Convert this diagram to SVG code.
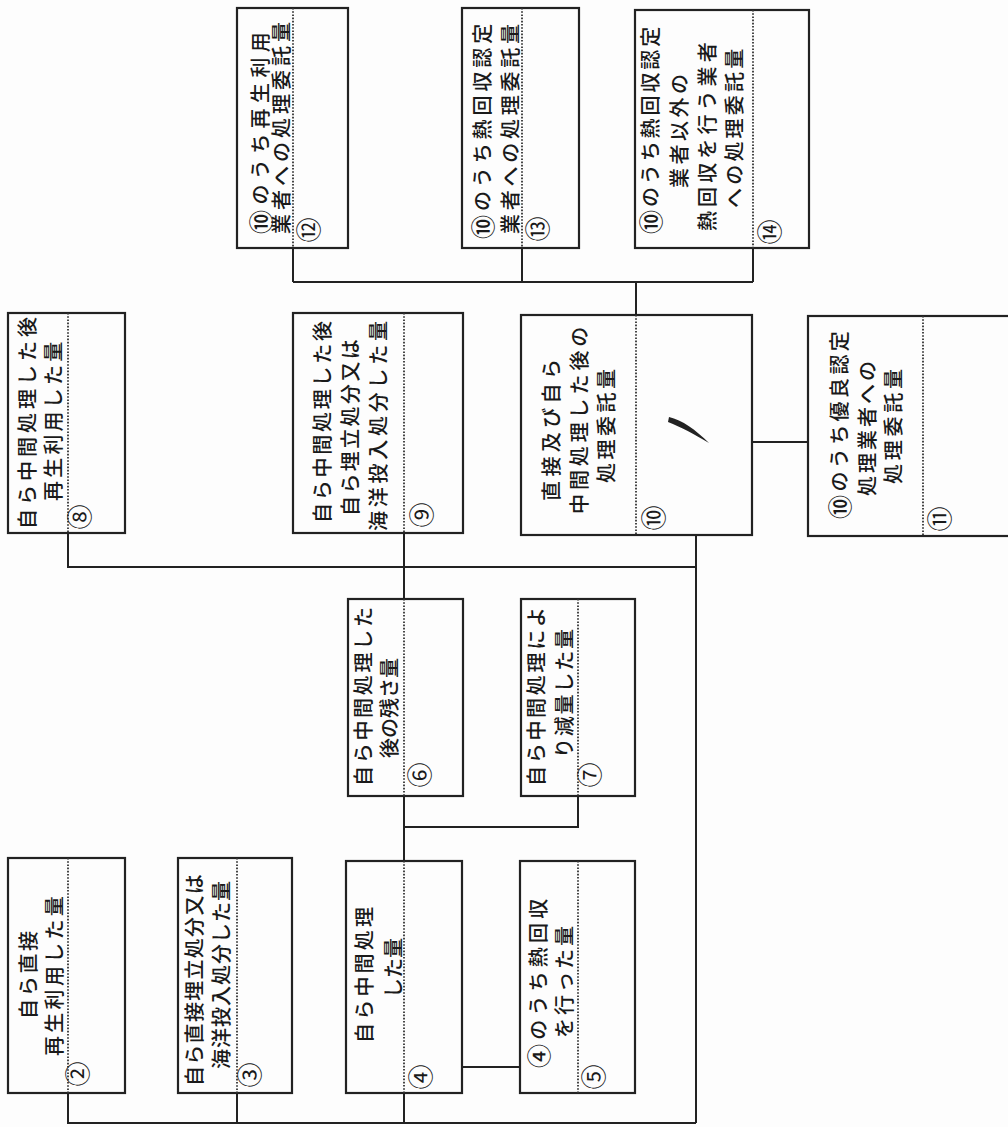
<svg xmlns="http://www.w3.org/2000/svg" width="1008" height="1127" viewBox="0 0 1008 1127">
<style>
.box{fill:none;stroke:#222;stroke-width:2.2}
.div{stroke:#333;stroke-width:1.8;stroke-dasharray:1.6 1.6;fill:none}
.con{fill:none;stroke:#222;stroke-width:2}
.t{font-family:"Noto Sans CJK JP","Noto Sans CJK SC",sans-serif;font-size:20px;font-weight:500;fill:#1a1a1a;dominant-baseline:central}
.c{font-size:24px}
.n{font-family:"Noto Sans CJK JP","Noto Sans CJK SC",sans-serif;font-size:25px;fill:#1a1a1a;dominant-baseline:central;text-anchor:middle}
</style>
<rect x="0" y="0" width="1008" height="1127" fill="#fdfdfd"/>
<g id="connectors">
<path class="con" d="M293,248V282M522,248V282M753,248V282M293,282H753M636,282V315"/>
<path class="con" d="M752,442H808"/>
<path class="con" d="M68,533V567H696M404,533V599M696,535V1123"/>
<path class="con" d="M404,796V861M578,796V827H404"/>
<path class="con" d="M462,1067H520" stroke="#666" stroke-width="1.5"/>
<path class="con" d="M68,1093V1123H696M237,1093V1123M404,1093V1123"/>
</g>
<g id="node2">
<rect class="box" x="8" y="858" width="117" height="235"/>
<line class="div" x1="68" y1="858" x2="68" y2="1093"/>
<text class="t" transform="translate(27,1019) rotate(-90)" letter-spacing="2.7">自ら直接</text>
<text class="t" transform="translate(53,1056) rotate(-90)" letter-spacing="3.3">再生利用した量</text>
<text class="n" transform="translate(76,1074) rotate(-90)">②</text>
</g>
<g id="node3">
<rect class="box" x="178" y="858" width="114" height="235"/>
<line class="div" x1="237" y1="858" x2="237" y2="1093"/>
<text class="t" transform="translate(193,1086) rotate(-90)" letter-spacing="1.3">自ら直接埋立処分又は</text>
<text class="t" transform="translate(220,1069) rotate(-90)" letter-spacing="1">海洋投入処分した量</text>
<text class="n" transform="translate(248,1075) rotate(-90)">③</text>
</g>
<g id="node4">
<rect class="box" x="346" y="861" width="116" height="232"/>
<line class="div" x1="404" y1="861" x2="404" y2="1093"/>
<text class="t" transform="translate(363,1043) rotate(-90)" letter-spacing="3.2">自ら中間処理</text>
<text class="t" transform="translate(392,998) rotate(-90)">した量</text>
<text class="n" transform="translate(419,1077) rotate(-90)">④</text>
</g>
<g id="node5">
<rect class="box" x="520" y="861" width="115" height="232"/>
<line class="div" x1="578" y1="861" x2="578" y2="1093"/>
<text class="t" transform="translate(537,1068) rotate(-90)" letter-spacing="4.2"><tspan class="c">④</tspan>のうち熱回収</text>
<text class="t" transform="translate(563,1038) rotate(-90)" letter-spacing="3">を行った量</text>
<text class="n" transform="translate(592,1077) rotate(-90)">⑤</text>
</g>
<g id="node6">
<rect class="box" x="348" y="599" width="115" height="197"/>
<line class="div" x1="404" y1="599" x2="404" y2="796"/>
<text class="t" transform="translate(362,786) rotate(-90)" letter-spacing="2.7">自ら中間処理した</text>
<text class="t" transform="translate(388,758) rotate(-90)">後の残さ量</text>
<text class="n" transform="translate(418,775) rotate(-90)">⑥</text>
</g>
<g id="node7">
<rect class="box" x="521" y="599" width="114" height="197"/>
<line class="div" x1="578" y1="599" x2="578" y2="796"/>
<text class="t" transform="translate(535,786) rotate(-90)" letter-spacing="2.7">自ら中間処理によ</text>
<text class="t" transform="translate(563,758) rotate(-90)" letter-spacing="1.8">り減量した量</text>
<text class="n" transform="translate(588,775) rotate(-90)">⑦</text>
</g>
<g id="node8">
<rect class="box" x="8" y="313" width="117" height="220"/>
<line class="div" x1="68" y1="313" x2="68" y2="533"/>
<text class="t" transform="translate(26,529) rotate(-90)" letter-spacing="4">自ら中間処理した後</text>
<text class="t" transform="translate(52,501) rotate(-90)" letter-spacing="3.2">再生利用した量</text>
<text class="n" transform="translate(78,517) rotate(-90)">⑧</text>
</g>
<g id="node9">
<rect class="box" x="293" y="313" width="170" height="220"/>
<line class="div" x1="404" y1="313" x2="404" y2="533"/>
<text class="t" transform="translate(321,523) rotate(-90)" letter-spacing="2.75">自ら中間処理した後</text>
<text class="t" transform="translate(349,516) rotate(-90)" letter-spacing="2.4">自ら埋立処分又は</text>
<text class="t" transform="translate(377,531) rotate(-90)" letter-spacing="3.75">海洋投入処分した量</text>
<text class="n" transform="translate(420,515) rotate(-90)">⑨</text>
</g>
<g id="node10">
<rect class="box" x="521" y="315" width="231" height="220"/>
<line class="div" x1="636" y1="315" x2="636" y2="535"/>
<text class="t" transform="translate(550,501) rotate(-90)" letter-spacing="4.4">直接及び自ら</text>
<text class="t" transform="translate(578,514) rotate(-90)" letter-spacing="3.9">中間処理した後の</text>
<text class="t" transform="translate(605,483) rotate(-90)" letter-spacing="3.5">処理委託量</text>
<text class="n" transform="translate(652,518) rotate(-90)">⑩</text>
<path d="M669,417C682,420 696,430 709,443C694,434 681,427 668,422Z" fill="#222"/>
</g>
<g id="node11">
<rect class="box" x="808" y="316" width="212" height="220"/>
<line class="div" x1="923" y1="316" x2="923" y2="536"/>
<text class="t" transform="translate(838,519) rotate(-90)" letter-spacing="3.4"><tspan class="c">⑩</tspan>のうち優良認定</text>
<text class="t" transform="translate(866,496) rotate(-90)" letter-spacing="3">処理業者への</text>
<text class="t" transform="translate(892,484) rotate(-90)" letter-spacing="3.75">処理委託量</text>
<text class="n" transform="translate(938,519) rotate(-90)">⑪</text>
</g>
<g id="node12">
<rect class="box" x="237" y="8" width="111" height="240"/>
<line class="div" x1="293" y1="8" x2="293" y2="248"/>
<text class="t" transform="translate(259,234) rotate(-90)" letter-spacing="5.4"><tspan class="c">⑩</tspan>のうち再生利用</text>
<text class="t" transform="translate(280,234) rotate(-90)" letter-spacing="4">業者への処理委託量</text>
<text class="n" transform="translate(307,230) rotate(-90)">⑫</text>
</g>
<g id="node13">
<rect class="box" x="462" y="8" width="117" height="240"/>
<line class="div" x1="522" y1="8" x2="522" y2="248"/>
<text class="t" transform="translate(481,239) rotate(-90)" letter-spacing="3.9"><tspan class="c">⑩</tspan>のうち熱回収認定</text>
<text class="t" transform="translate(509,234) rotate(-90)" letter-spacing="3.75">業者への処理委託量</text>
<text class="n" transform="translate(536,229) rotate(-90)">⑬</text>
</g>
<g id="node14">
<rect class="box" x="635" y="10" width="174" height="238"/>
<line class="div" x1="753" y1="10" x2="753" y2="248"/>
<text class="t" transform="translate(649,234) rotate(-90)" letter-spacing="2.9"><tspan class="c">⑩</tspan>のうち熱回収認定</text>
<text class="t" transform="translate(678,188) rotate(-90)" letter-spacing="3.5">業者以外の</text>
<text class="t" transform="translate(706,231) rotate(-90)" letter-spacing="4.1">熱回収を行う業者</text>
<text class="t" transform="translate(733,208) rotate(-90)" letter-spacing="3.2">への処理委託量</text>
<text class="n" transform="translate(768,232) rotate(-90)">⑭</text>
</g>
</svg>
